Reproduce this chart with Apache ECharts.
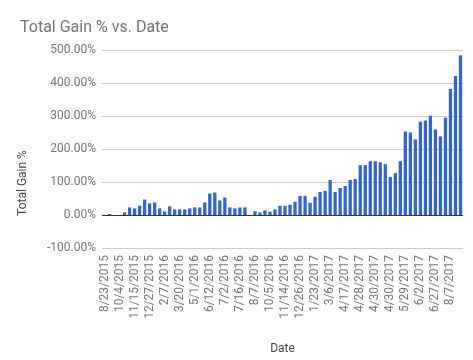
<!DOCTYPE html>
<html>
<head>
<meta charset="utf-8">
<script src="https://cdn.jsdelivr.net/npm/echarts@6/dist/echarts.min.js"></script>
<style>html,body{margin:0;padding:0;background:#fff}#c{width:473px;height:360px}</style>
</head>
<body>
<div id="c"></div>
<script>
// Tick labels shown on the category axis (every third category)
var tickLabels = ['8/23/2015','10/4/2015','11/15/2015','12/27/2015','2/7/2016','3/20/2016','5/1/2016','6/12/2016','7/2/2016','7/16/2016','8/7/2016','10/5/2016','11/14/2016','12/26/2016','1/23/2017','3/6/2017','4/17/2017','4/28/2017','4/30/2017','4/30/2017','5/29/2017','6/2/2017','6/27/2017','8/7/2017'];
// Total gain % per category
var gainValues = [0,3,0,0,8,23,20,28,47,35,38,20,11,26,17,17,17,20,23,23,38,65,68,44,53,23,20,23,23,0,11,8,14,10,17,28,28,31,40,58,58,37,55,70,73,106,70,82,88,106,109,151,151,163,163,160,154,115,127,163,253,250,229,283,286,301,259,238,295,382,421,484];
var yTicks = {min: -100, max: 500, interval: 100};

// Categories: labelled ones every third slot, unlabelled dates unknown
var categories = gainValues.map(function (v, i) {
  return (i % 3 === 0 && tickLabels[i / 3] !== undefined) ? tickLabels[i / 3] : ('#' + i);
});

var chart = echarts.init(document.getElementById('c'), null, {renderer: 'canvas'});
chart.setOption({
  animation: false,
  backgroundColor: '#fff',
  textStyle: {fontFamily: 'Roboto'},
  title: {
    text: 'Total Gain % vs. Date',
    left: 15, top: 15,
    textStyle: {fontFamily: 'Roboto', fontSize: 16, fontWeight: 'normal', color: '#757575'}
  },
  grid: {left: 102, right: 10, top: 50, bottom: 110, containLabel: false},
  xAxis: {
    type: 'category',
    data: categories,
    name: 'Date',
    nameLocation: 'middle',
    nameGap: 95,
    nameTextStyle: {fontFamily: 'Roboto', fontSize: 12, color: '#444'},
    axisLine: {show: false, onZero: false},
    axisTick: {show: false},
    axisLabel: {
      interval: 2, rotate: 90, fontSize: 12, color: '#757575', margin: 7,
      fontFamily: 'Roboto'
    },
    splitLine: {show: false}
  },
  yAxis: {
    type: 'value',
    min: yTicks.min, max: yTicks.max, interval: yTicks.interval,
    axisLine: {show: false},
    axisTick: {show: false},
    axisLabel: {
      fontSize: 12, color: '#757575', margin: 6, fontFamily: 'Roboto',
      formatter: function (v) { return v.toFixed(2) + '%'; }
    },
    splitLine: {show: true, lineStyle: {color: '#cccccc', width: 1}}
  },
  graphic: [{
    type: 'text',
    x: 23, y: 183,
    rotation: Math.PI / 2,
    style: {
      text: 'Total Gain %',
      fontFamily: 'Roboto', fontSize: 12, fill: '#444',
      align: 'center', verticalAlign: 'middle'
    }
  }],
  series: [{
    type: 'bar',
    data: gainValues,
    barCategoryGap: '34%',
    itemStyle: {color: '#3366cc'},
    markLine: {
      silent: true,
      symbol: 'none',
      label: {show: false},
      lineStyle: {color: '#333333', type: 'solid', width: 1},
      data: [{yAxis: 0}]
    }
  }]
});
</script>
</body>
</html>
